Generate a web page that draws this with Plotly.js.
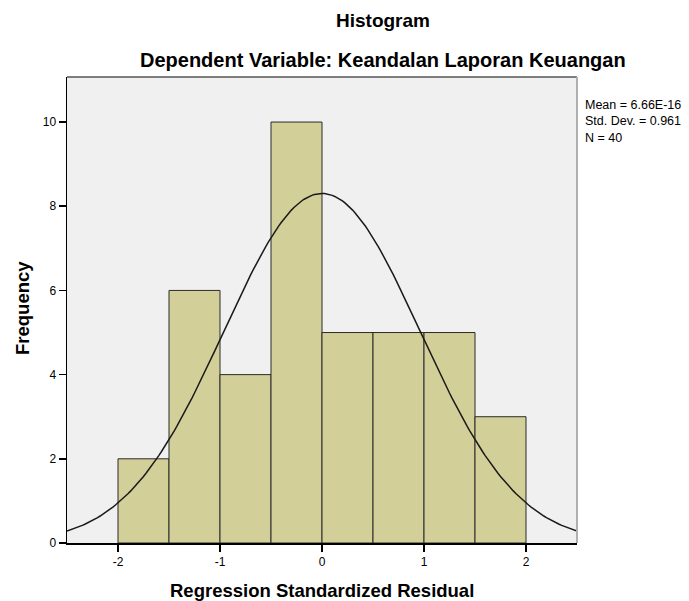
<!DOCTYPE html>
<html>
<head>
<meta charset="utf-8">
<script src="https://cdn.plot.ly/plotly-3.0.1.min.js"></script>
<style>html,body{margin:0;padding:0;background:#fff;}#chart{width:689px;height:601px;}</style>
</head>
<body>
<div id="chart"></div>
<script>
// Data
var binStarts = [-2, -1.5, -1, -0.5, 0, 0.5, 1, 1.5];
var binWidth = 0.5;
var counts = [2, 6, 4, 10, 5, 5, 5, 3];
var xTicks = [-2, -1, 0, 1, 2];
var yTicks = [0, 2, 4, 6, 8, 10];
// Summary statistics shown in the chart (define the normal curve)
var statMean = 6.66e-16;
var statSD = 0.961;
var statN = 40;
var statLines = ["Mean = 6.66E-16", "Std. Dev. = 0.961", "N = 40"];

var binCenters = binStarts.map(function(s){ return s + binWidth / 2; });

// Normal curve implied by mean, SD, N and bin width
var curveX = [], curveY = [];
for (var i = 0; i <= 200; i++) {
  var x = -2.5 + 5 * i / 200;
  var z = (x - statMean) / statSD;
  curveX.push(x);
  curveY.push(statN * binWidth / (statSD * Math.sqrt(2 * Math.PI)) * Math.exp(-0.5 * z * z));
}

var font = "Liberation Sans, Arial, sans-serif";

var traces = [
  {
    type: "bar",
    x: binCenters,
    y: counts,
    width: binWidth,
    marker: { color: "#D3CF98", line: { color: "#2b2b2b", width: 1 } },
    hoverinfo: "none"
  },
  {
    type: "scatter",
    mode: "lines",
    x: curveX,
    y: curveY,
    line: { color: "#1a1a1a", width: 1.5 },
    hoverinfo: "none"
  }
];

var layout = {
  width: 689,
  height: 601,
  margin: { l: 67, r: 112, t: 77, b: 58 },
  paper_bgcolor: "#ffffff",
  plot_bgcolor: "#F0F0F0",
  showlegend: false,
  bargap: 0,
  font: { family: font, color: "#000" },
  xaxis: {
    range: [-2.5, 2.5],
    tickvals: xTicks,
    ticktext: xTicks.map(String),
    ticks: "outside",
    ticklen: 7,
    tickcolor: "#000",
    tickwidth: 1.5,
    tickfont: { size: 12, family: font, color: "#000" },
    showgrid: false,
    zeroline: false,
    showline: true,
    linecolor: "#000",
    linewidth: 1.5,
    fixedrange: true
  },
  yaxis: {
    range: [0, 11.07],
    tickvals: yTicks,
    ticktext: yTicks.map(String),
    ticks: "outside",
    ticklen: 7,
    tickcolor: "#000",
    tickwidth: 1.5,
    tickfont: { size: 12, family: font, color: "#000" },
    showgrid: false,
    zeroline: false,
    showline: true,
    linecolor: "#000",
    linewidth: 1.5,
    fixedrange: true
  },
  shapes: [
    { type: "line", xref: "paper", yref: "paper", x0: 0, x1: 1, y0: 1, y1: 1, line: { color: "#555", width: 1.5 } },
    { type: "line", xref: "paper", yref: "paper", x0: 1, x1: 1, y0: 0, y1: 1, line: { color: "#b0b0b0", width: 2 } }
  ],
  annotations: [
    { text: "<b>Histogram</b>", xref: "paper", yref: "paper", x: 0.6196, y: (543 - 20) / 466, xanchor: "center", yanchor: "middle", showarrow: false, font: { size: 19, family: font, color: "#000" } },
    { text: "<b>Dependent Variable: Keandalan Laporan Keuangan</b>", xref: "paper", yref: "paper", x: 0.6196, y: (543 - 60) / 466, xanchor: "center", yanchor: "middle", showarrow: false, font: { size: 20, family: font, color: "#000" } },
    { text: "<b>Regression Standardized Residual</b>", xref: "paper", yref: "paper", x: 0.5, y: (543 - 590) / 466, xanchor: "center", yanchor: "middle", showarrow: false, font: { size: 18.5, family: font, color: "#000" } },
    { text: "<b>Frequency</b>", xref: "paper", yref: "paper", x: (22 - 67) / 510, y: (543 - 308) / 466, xanchor: "center", yanchor: "middle", textangle: -90, showarrow: false, font: { size: 18.5, family: font, color: "#000" } },
    { text: statLines.join("<br>"), xref: "paper", yref: "paper", x: 1.012, y: (543 - 122) / 466, xanchor: "left", yanchor: "middle", align: "left", showarrow: false, font: { size: 12.5, family: font, color: "#000" } }
  ]
};

Plotly.newPlot("chart", traces, layout, { displayModeBar: false, staticPlot: true });
</script>
</body>
</html>
